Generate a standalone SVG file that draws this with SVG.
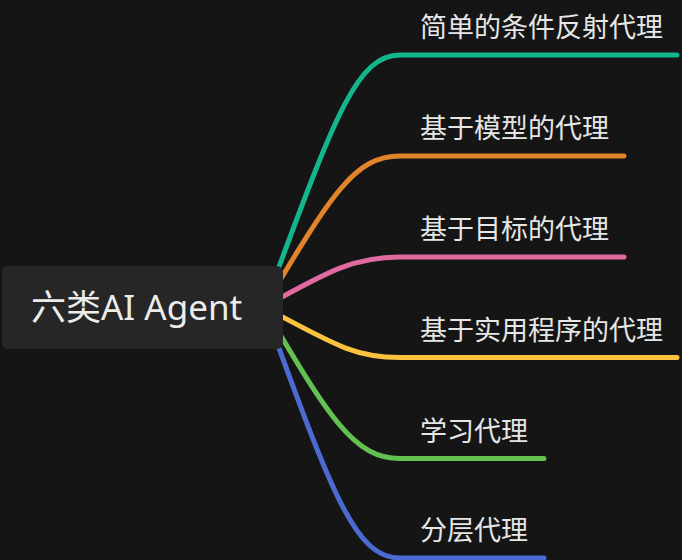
<svg xmlns="http://www.w3.org/2000/svg" width="682" height="560" viewBox="0 0 682 560">
<style>
.bg{fill:#151515}
.link{fill:none;stroke-width:5;stroke-linecap:round}
.lbl{font-family:"Noto Sans","Noto Sans CJK SC",sans-serif;font-size:27px;fill:#e6e6e6}
.root-box{fill:#262626}
.root-txt{font-family:"Noto Sans","Noto Sans CJK SC",sans-serif;font-size:35px;fill:#ececec}
</style>
<rect class="bg" x="0" y="0" width="682" height="560"/>
<g id="connectors">
<path class="link" stroke="#13b58c" d="M264 307 C333 122 355 55 400 55 L677 55"/>
<path class="link" stroke="#e2842a" d="M264 307 C332 193 355 156 400 156 L624 156"/>
<path class="link" stroke="#e06aa0" d="M264 307 C330 270 355 257 400 257 L624 257"/>
<path class="link" stroke="#fbc240" d="M264 307 C335 345 355 357.5 400 357.5 L677 357.5"/>
<path class="link" stroke="#62c150" d="M264 307 C330 420 355 458.5 400 458.5 L544 458.5"/>
<path class="link" stroke="#4b6bd2" d="M264 307 C332 494 355 558 400 558 L544 558"/>
</g>
<g id="root">
<rect class="root-box" x="2" y="266" width="281" height="83" rx="6"/>
<text class="root-txt" x="31" y="320">六类AI Agent</text>
</g>
<g id="n1"><text class="lbl" x="420" y="37">简单的条件反射代理</text></g>
<g id="n2"><text class="lbl" x="420" y="138">基于模型的代理</text></g>
<g id="n3"><text class="lbl" x="420" y="239">基于目标的代理</text></g>
<g id="n4"><text class="lbl" x="420" y="339.5">基于实用程序的代理</text></g>
<g id="n5"><text class="lbl" x="420" y="440.5">学习代理</text></g>
<g id="n6"><text class="lbl" x="420" y="540">分层代理</text></g>
</svg>
